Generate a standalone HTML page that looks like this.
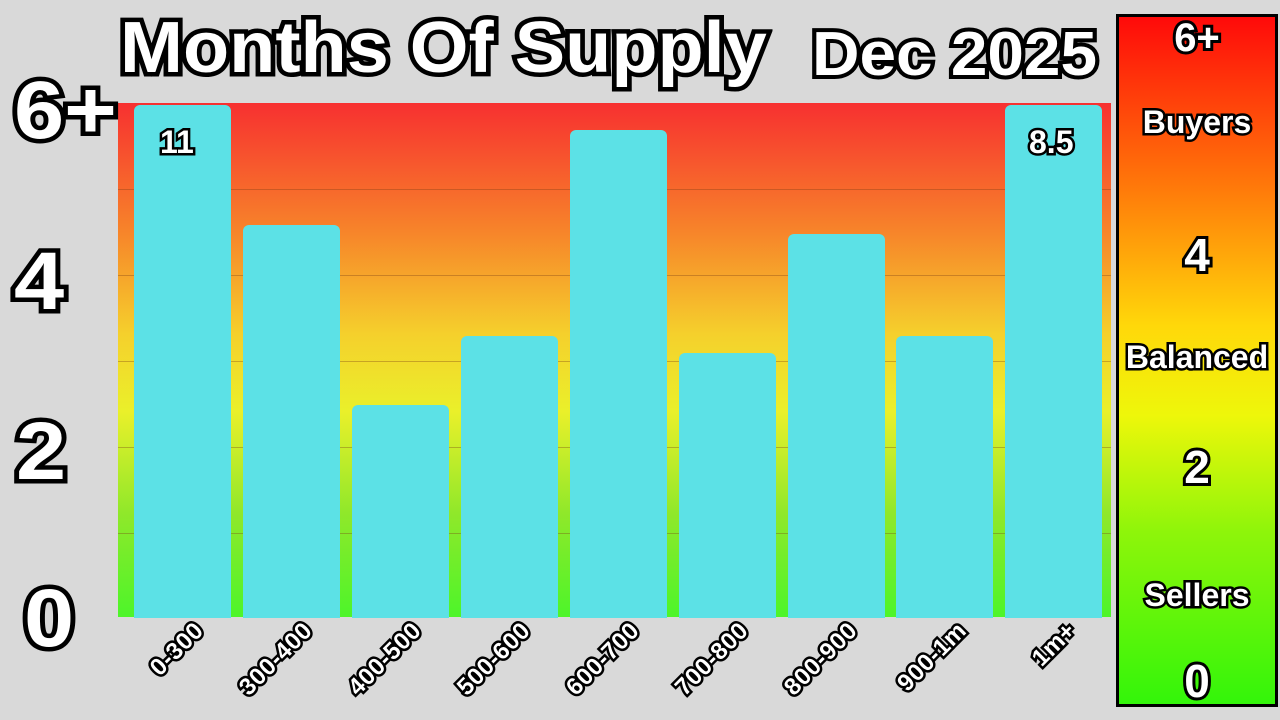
<!DOCTYPE html>
<html><head><meta charset="utf-8"><style>
body{margin:0;width:1280px;height:720px;background:#d9d9d9;position:relative;overflow:hidden;font-family:"Liberation Sans",sans-serif;font-weight:bold}
.t{position:absolute;color:#fff;-webkit-text-stroke:5px #000;paint-order:stroke fill;white-space:nowrap;line-height:1}
.plot{position:absolute;left:118px;top:103px;width:993px;height:514px;background:linear-gradient(#f73030 0%,#f7842a 25%,#f5d02c 45%,#eaf02a 60%,#8fe82a 80%,#4df52a 100%)}
.g{position:absolute;left:118px;width:993px;height:1px;background:rgba(120,60,20,0.35)}
.b{position:absolute;width:97px;background:#5ce1e6;border-radius:6px 6px 0 0;bottom:102px}
.xl{position:absolute;transform:rotate(-45deg);transform-origin:right center;font-size:24px;-webkit-text-stroke:5px #000;letter-spacing:0.5px}
.side{position:absolute;left:1116px;top:14px;width:156px;height:687px;border:3px solid #000;background:linear-gradient(#ff0a0a 0%,#ff7a0a 25%,#ffd80a 45%,#eef70a 58%,#8ef50a 75%,#33f50a 100%)}
.s{text-align:center;width:162px;left:1116px}
</style></head><body>
<div class="plot"></div>
<div class="g" style="top:189px"></div><div class="g" style="top:275px"></div><div class="g" style="top:361px"></div><div class="g" style="top:447px"></div><div class="g" style="top:533px"></div>
<div class="b" style="left:134px;top:105px"></div>
<div class="b" style="left:243px;top:225px"></div>
<div class="b" style="left:352px;top:405px"></div>
<div class="b" style="left:461px;top:336px"></div>
<div class="b" style="left:570px;top:130px"></div>
<div class="b" style="left:679px;top:353px"></div>
<div class="b" style="left:788px;top:234px"></div>
<div class="b" style="left:896px;top:336px"></div>
<div class="b" style="left:1005px;top:105px"></div>
<div class="t" style="left:160px;top:126px;font-size:32px;-webkit-text-stroke:5px #000">11</div>
<div class="t" style="left:1029px;top:126px;font-size:32px;-webkit-text-stroke:5px #000">8.5</div>
<div class="t" style="left:120px;top:12px;font-size:72px;-webkit-text-stroke:9px #000;transform:scaleX(1.05);transform-origin:left">Months Of Supply</div>
<div class="t" style="left:812px;top:24px;font-size:62px;-webkit-text-stroke:8px #000;transform:scaleX(1.06);transform-origin:left">Dec 2025</div>
<div class="t" style="left:14px;top:70px;font-size:82px;-webkit-text-stroke:9px #000;transform:scaleX(1.1);transform-origin:left">6+</div>
<div class="t" style="left:14px;top:241px;font-size:82px;-webkit-text-stroke:9px #000;transform:scaleX(1.1);transform-origin:left">4</div>
<div class="t" style="left:16px;top:411px;font-size:82px;-webkit-text-stroke:9px #000;transform:scaleX(1.1);transform-origin:left">2</div>
<div class="t" style="left:24px;top:578px;font-size:82px;-webkit-text-stroke:9px #000;transform:scaleX(1.1);transform-origin:left">0</div>
<div class="t xl" style="right:1080px;top:615px">0-300</div>
<div class="t xl" style="right:971px;top:615px">300-400</div>
<div class="t xl" style="right:862px;top:615px">400-500</div>
<div class="t xl" style="right:753px;top:615px">500-600</div>
<div class="t xl" style="right:644px;top:615px">600-700</div>
<div class="t xl" style="right:535px;top:615px">700-800</div>
<div class="t xl" style="right:426px;top:615px">800-900</div>
<div class="t xl" style="right:317px;top:615px">900-1m</div>
<div class="t xl" style="right:208px;top:615px">1m+</div>
<div class="side"></div>
<div class="t s" style="top:18px;font-size:40px;-webkit-text-stroke:6px #000">6+</div>
<div class="t s" style="top:106px;font-size:32px;-webkit-text-stroke:5px #000">Buyers</div>
<div class="t s" style="top:232px;font-size:46px;-webkit-text-stroke:6px #000">4</div>
<div class="t s" style="top:341px;font-size:32px;-webkit-text-stroke:5px #000">Balanced</div>
<div class="t s" style="top:444px;font-size:46px;-webkit-text-stroke:6px #000">2</div>
<div class="t s" style="top:579px;font-size:32px;-webkit-text-stroke:5px #000">Sellers</div>
<div class="t s" style="top:658px;font-size:46px;-webkit-text-stroke:6px #000">0</div>
</body></html>
